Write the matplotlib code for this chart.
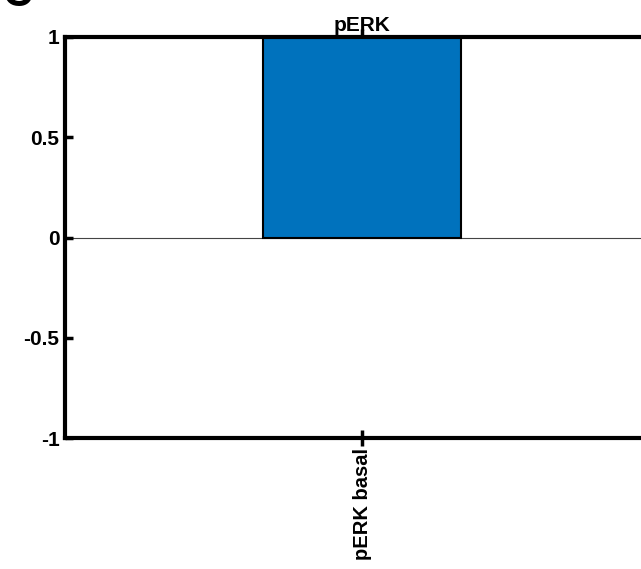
import matplotlib.pyplot as plt

plt.rcParams['font.family'] = ['Liberation Sans', 'DejaVu Sans']
plt.rcParams['font.weight'] = 'bold'

labels = ['pERK basal']
values = [1.0]
title = 'pERK'
yticks = [-1, -0.5, 0, 0.5, 1]

fig = plt.figure(figsize=(6.41, 5.69), dpi=100)
# axes runs off the right side of the figure, as in the reference crop
ax = fig.add_axes([65 / 641, 1 - 438 / 569, 594 / 641, 401 / 569])

x = [1 + i for i in range(len(values))]
ax.bar(x, values, width=0.67, color='#0072BD', edgecolor='black', linewidth=1.5, zorder=2)
ax.axhline(0, color='#444444', linewidth=0.8, zorder=1)

ax.set_xlim(0, 2)
ax.set_ylim(-1, 1)
ax.set_xticks(x)
ax.set_xticklabels(labels, rotation=90, fontsize=14.5, fontweight='bold')
ax.set_yticks(yticks)
ax.set_yticklabels(['-1', '-0.5', '0', '0.5', '1'], fontsize=15, fontweight='bold')
ax.tick_params(direction='in', length=6, width=2.5, top=True, pad=4)
ax.tick_params(axis='x', direction='inout', length=12, pad=1)
for s in ax.spines.values():
    s.set_linewidth(3)
ax.set_title(title, fontsize=15, fontweight='bold', pad=4)

fig.text(2 / 641, 1.008, 'C', fontsize=30, fontweight='bold', va='center', ha='left')

fig.savefig('out.png', dpi=100)
